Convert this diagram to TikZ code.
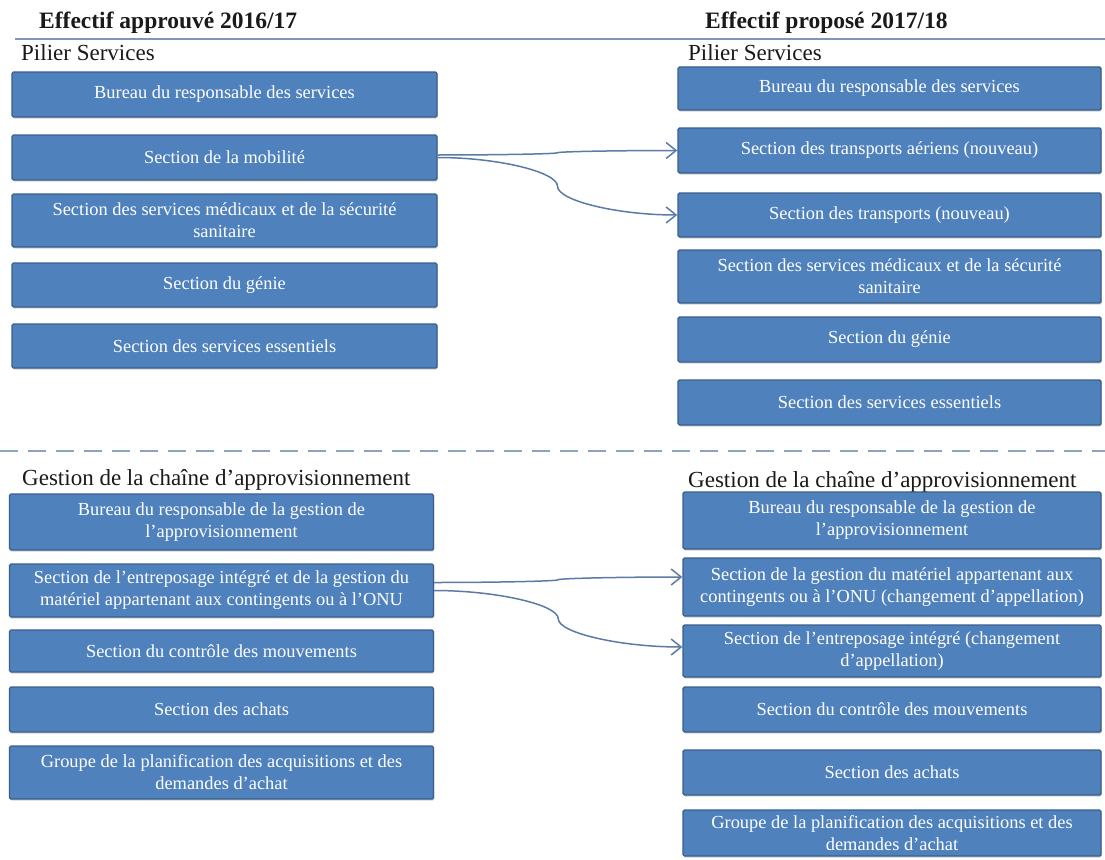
\documentclass[tikz,border=0pt]{standalone}
\usepackage{fontspec}
\setmainfont{Liberation Serif}
\usetikzlibrary{arrows.meta,calc,shadows}
\definecolor{boxfill}{HTML}{4F81BD}
\definecolor{boxedge}{HTML}{3A5F8C}
\definecolor{linkcol}{HTML}{5B7BA6}
\definecolor{rulecol}{HTML}{7F97B4}
\definecolor{dashcol}{HTML}{8DA3BE}
\definecolor{inkcol}{HTML}{1A1A1A}

\begin{document}
\begin{tikzpicture}[x=1pt,y=-1pt,
  unitbox/.style={draw=boxedge, line width=1.4pt, fill=boxfill, rounded corners=1.5pt,
    text=white, align=center, inner sep=0pt,
    font=\fontsize{18.4}{22}\selectfont,
    drop shadow={shadow xshift=0.8pt, shadow yshift=-1.6pt, opacity=0.35}},
  colA/.style={unitbox, minimum width=425pt},
  colB/.style={unitbox, minimum width=423pt},
  colC/.style={unitbox, minimum width=424pt},
  colD/.style={unitbox, minimum width=418pt},
  colhead/.style={anchor=base west, inner sep=0pt, text=inkcol,
    font=\fontsize{23.5}{26}\selectfont\bfseries},
  grouphead/.style={anchor=base west, inner sep=0pt, text=inkcol,
    font=\fontsize{23}{26}\selectfont},
  link/.style={draw=linkcol, line width=1.5pt,
    -{Straight Barb[length=10pt,width=16pt,line width=1.5pt]}}
]
\useasboundingbox (0,0) rectangle (1105,859);
\fill[white] (0,0) rectangle (1105,859);

% column titles and rules
\node[colhead] (tl) at (39,29) {Effectif approuvé 2016/17};
\node[colhead] (tr) at (705,29) {Effectif proposé 2017/18};
\draw[rulecol, line width=2pt] (15,39.5) -- (1105,39.5);
\draw[dashcol, line width=2.5pt, dash pattern=on 18pt off 10pt] (0,451) -- (1105,451);

\node[grouphead] (gl1) at (21,60) {Pilier Services};
\node[grouphead] (gr1) at (688,60) {Pilier Services};
\node[grouphead] (gl2) at (22,485) {Gestion de la chaîne d'approvisionnement};
\node[grouphead] (gr2) at (688,487) {Gestion de la chaîne d'approvisionnement};

% Pilier Services, 2016/17
\node[colA, minimum height=45pt] (l1) at (224.5,94.5) {Bureau du responsable des services};
\node[colA, minimum height=45pt] (l2) at (224.5,157.5) {Section de la mobilité};
\node[colA, minimum height=53pt] (l3) at (224.5,220.5) {Section des services médicaux et de la sécurité\\sanitaire};
\node[colA, minimum height=44pt] (l4) at (224.5,285) {Section du génie};
\node[colA, minimum height=44pt] (l5) at (224.5,346) {Section des services essentiels};

% Pilier Services, 2017/18
\node[colB, minimum height=43pt] (r1) at (889.5,88.5) {Bureau du responsable des services};
\node[colB, minimum height=45pt] (r2) at (889.5,150.5) {Section des transports aériens (nouveau)};
\node[colB, minimum height=44pt] (r3) at (889.5,215) {Section des transports (nouveau)};
\node[colB, minimum height=53pt] (r4) at (889.5,276.5) {Section des services médicaux et de la sécurité\\sanitaire};
\node[colB, minimum height=45pt] (r5) at (889.5,339.5) {Section du génie};
\node[colB, minimum height=45pt] (r6) at (889.5,402.5) {Section des services essentiels};

% Supply chain, 2016/17
\node[colC, minimum height=56pt] (l6) at (221.5,522) {Bureau du responsable de la gestion de\\l'approvisionnement};
\node[colC, minimum height=53pt] (l7) at (221.5,590.5) {Section de l'entreposage intégré et de la gestion du\\matériel appartenant aux contingents ou à l'ONU};
\node[colC, minimum height=42pt] (l8) at (221.5,651) {Section du contrôle des mouvements};
\node[colC, minimum height=45pt] (l9) at (221.5,709.5) {Section des achats};
\node[colC, minimum height=53pt] (l10) at (221.5,772.5) {Groupe de la planification des acquisitions et des\\demandes d'achat};

% Supply chain, 2017/18
\node[colD, minimum height=57pt] (r7) at (892,520.5) {Bureau du responsable de la gestion de\\l'approvisionnement};
\node[colD, minimum height=58pt] (r8) at (892,587) {Section de la gestion du matériel appartenant aux\\contingents ou à l'ONU (changement d'appellation)};
\node[colD, minimum height=52pt] (r9) at (892,651) {Section de l'entreposage intégré (changement\\d'appellation)};
\node[colD, minimum height=45pt] (r10) at (892,709.5) {Section du contrôle des mouvements};
\node[colD, minimum height=45pt] (r11) at (892,772.5) {Section des achats};
\node[colD, minimum height=46pt] (r12) at (892,833) {Groupe de la planification des acquisitions et des\\demandes d'achat};

% connector end points, offset from the box centres
\coordinate (s1) at ([yshift=2.5pt]l2.east);
\coordinate (s3) at ([yshift=8pt]l7.east);
\coordinate (e3) at ([yshift=10pt]r8.west);
\coordinate (e4) at ([yshift=4pt]r9.west);

% S-shaped connectors: two cubic halves meeting with a vertical tangent
\draw[link] let \p1=(s1), \p2=(r2.west), \p3=($(\p1)!0.5!(\p2)$) in
  (\p1) .. controls ({(\x1+\x3)/2},\y1) and (\x3,{(\y1+\y3)/2}) .. (\p3)
        .. controls (\x3,{(\y3+\y2)/2}) and ({(\x3+\x2)/2},\y2) .. (\p2);
\draw[link] let \p1=(l2.east), \p2=(r3.west), \p3=($(\p1)!0.5!(\p2)$) in
  (\p1) .. controls ({(\x1+\x3)/2},\y1) and (\x3,{(\y1+\y3)/2}) .. (\p3)
        .. controls (\x3,{(\y3+\y2)/2}) and ({(\x3+\x2)/2},\y2) .. (\p2);
\draw[link] let \p1=(s3), \p2=(e3), \p3=($(\p1)!0.5!(\p2)$) in
  (\p1) .. controls ({(\x1+\x3)/2},\y1) and (\x3,{(\y1+\y3)/2}) .. (\p3)
        .. controls (\x3,{(\y3+\y2)/2}) and ({(\x3+\x2)/2},\y2) .. (\p2);
\draw[link] let \p1=(l7.east), \p2=(e4), \p3=($(\p1)!0.5!(\p2)$) in
  (\p1) .. controls ({(\x1+\x3)/2},\y1) and (\x3,{(\y1+\y3)/2}) .. (\p3)
        .. controls (\x3,{(\y3+\y2)/2}) and ({(\x3+\x2)/2},\y2) .. (\p2);
\end{tikzpicture}
\end{document}
